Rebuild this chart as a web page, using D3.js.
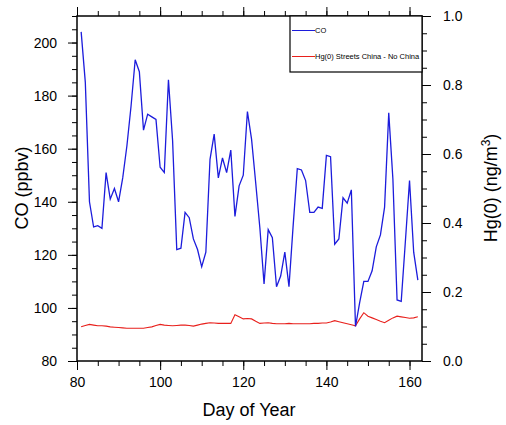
<!DOCTYPE html>
<html><head><meta charset="utf-8">
<script src="https://cdn.jsdelivr.net/npm/d3@7"></script>
<style>body{margin:0;background:#fff}svg{display:block;font-family:"Liberation Sans",Arial,Helvetica,sans-serif}</style>
</head><body><svg id="c" width="506" height="425"></svg>
<script>
const days = d3.range(81, 163);
const coValues = [204,185,140,130.5,131,130,151,141,145,140,
149,161,176,193.5,189,167,173,172,171,153,
151,186,163,122,122.5,136,134,126,122,115.5,
121,156,165.5,149,156.5,151,159.5,134.5,146,150,
174,163.5,147,130,109,129.5,126.5,108,112,121,
108,131,152.5,152,148,136,136,138,137.5,157.5,
157,124,126,141.5,139.5,144.5,93,102,110,110,
114,123,127.5,138,173.5,148.5,103,102.5,125,148,
121,110.5];
const hgValues = [0.099,0.103,0.106,0.104,0.102,0.102,0.101,0.099,0.098,0.097,
0.096,0.095,0.095,0.095,0.095,0.095,0.097,0.099,0.103,0.106,
0.104,0.103,0.102,0.103,0.104,0.104,0.103,0.101,0.104,0.107,
0.109,0.111,0.110,0.109,0.109,0.109,0.109,0.134,0.128,0.122,
0.123,0.122,0.115,0.109,0.110,0.111,0.109,0.108,0.108,0.108,
0.109,0.108,0.108,0.108,0.108,0.108,0.109,0.109,0.110,0.110,
0.113,0.117,0.114,0.111,0.108,0.105,0.102,0.122,0.140,0.130,
0.125,0.120,0.115,0.111,0.118,0.125,0.130,0.128,0.126,0.124,
0.125,0.128];
const xTicks = [80,100,120,140,160];
const yLeftTicks = [80,100,120,140,160,180,200];
const yRightTicks = [0.0,0.2,0.4,0.6,0.8,1.0];
const legendLabels = ["CO","Hg(0) Streets China - No China"];

const L=77,R=422,T=16,B=361;
const svg=d3.select("#c");
const x=d3.scaleLinear().domain([80,163]).range([L,R]);
const yL=d3.scaleLinear().domain([80,210]).range([B,T]);
const yR=d3.scaleLinear().domain([0,1]).range([B,T]);

function ticks(g, axisGen){ g.call(axisGen); g.select(".domain").remove(); g.selectAll("line").attr("stroke","#000").attr("stroke-width",1); }
// minor ticks
svg.append("g").attr("transform",`translate(0,${B})`).call(g=>ticks(g,d3.axisBottom(x).tickValues(d3.range(80,164,5)).tickSize(5).tickFormat("")));
svg.append("g").attr("transform",`translate(0,${T})`).call(g=>ticks(g,d3.axisTop(x).tickValues(d3.range(80,164,5)).tickSize(5).tickFormat("")));
svg.append("g").attr("transform",`translate(${L},0)`).call(g=>ticks(g,d3.axisLeft(yL).tickValues(d3.range(80,211,5)).tickSize(5).tickFormat("")));
svg.append("g").attr("transform",`translate(${R},0)`).call(g=>ticks(g,d3.axisRight(yR).tickValues(d3.range(0,1.001,0.05)).tickSize(5).tickFormat("")));
// major ticks
const fs="14px";
const gxb=svg.append("g").attr("transform",`translate(0,${B})`);
ticks(gxb,d3.axisBottom(x).tickValues(xTicks).tickSize(9).tickPadding(7).tickFormat(d3.format("d")));
gxb.selectAll("text").attr("font-size",fs).attr("fill","#000").attr("font-family","Liberation Sans, Arial, sans-serif");
svg.append("g").attr("transform",`translate(0,${T})`).call(g=>ticks(g,d3.axisTop(x).tickValues(xTicks).tickSize(9).tickFormat("")));
const gyl=svg.append("g").attr("transform",`translate(${L},0)`);
ticks(gyl,d3.axisLeft(yL).tickValues(yLeftTicks).tickSize(9).tickPadding(11).tickFormat(d3.format("d")));
gyl.selectAll("text").attr("font-size",fs).attr("fill","#000").attr("font-family","Liberation Sans, Arial, sans-serif");
const gyr=svg.append("g").attr("transform",`translate(${R},0)`);
ticks(gyr,d3.axisRight(yR).tickValues(yRightTicks).tickSize(9).tickPadding(12).tickFormat(d3.format(".1f")));
gyr.selectAll("text").attr("font-size",fs).attr("fill","#000").attr("font-family","Liberation Sans, Arial, sans-serif");

// lines
svg.append("path").datum(days.map((d,i)=>[d,hgValues[i]]))
  .attr("fill","none").attr("stroke","#e8201c").attr("stroke-width",1.1)
  .attr("d",d3.line().x(d=>x(d[0])).y(d=>yR(d[1])));
svg.append("path").datum(days.map((d,i)=>[d,coValues[i]]))
  .attr("fill","none").attr("stroke","#1c1cdc").attr("stroke-width",1.3)
  .attr("d",d3.line().x(d=>x(d[0])).y(d=>yL(d[1])));

// frame
svg.append("rect").attr("x",L).attr("y",T).attr("width",R-L).attr("height",B-T)
  .attr("fill","none").attr("stroke","#000").attr("stroke-width",1.5);

// legend
const lg=svg.append("g");
lg.append("rect").attr("x",290).attr("y",T).attr("width",R-290).attr("height",56)
  .attr("fill","#fff").attr("stroke","#000").attr("stroke-width",1.2);
const lcol=["#1c1cdc","#e8201c"], ly=[30.5,56.5];
legendLabels.forEach((t,i)=>{
  lg.append("line").attr("x1",292).attr("x2",315).attr("y1",ly[i]).attr("y2",ly[i]).attr("stroke",lcol[i]).attr("stroke-width",1);
  lg.append("text").attr("x",315).attr("y",ly[i]+2.7).attr("font-size","7.5px").attr("fill","#000").text(t);
});

// titles
svg.append("text").attr("x",249).attr("y",416).attr("text-anchor","middle").attr("font-size","18px").text("Day of Year");
svg.append("text").attr("transform",`translate(28,188) rotate(-90)`).attr("text-anchor","middle").attr("font-size","18px").text("CO (ppbv)");
const rt=svg.append("text").attr("transform",`translate(497,188) rotate(-90)`).attr("text-anchor","middle").attr("font-size","18px");
rt.append("tspan").text("Hg(0) (ng/m");
rt.append("tspan").attr("font-size","12px").attr("dy","-7").text("3");
rt.append("tspan").attr("dy","7").text(")");
</script></body></html>
